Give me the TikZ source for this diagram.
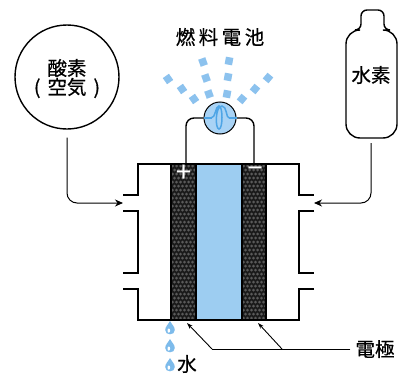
\documentclass[tikz,border=0pt]{standalone}
\usepackage{fontspec}
\setmainfont{Noto Sans CJK JP}[FakeBold=0.5]
\usetikzlibrary{arrows.meta}
\definecolor{memblue}{HTML}{9DCDF1}
\definecolor{raybl}{HTML}{8CC2EE}
\definecolor{dropbl}{HTML}{7DBBEB}
\definecolor{lampbl}{HTML}{A9D3F5}
\definecolor{filbl}{HTML}{4EA5E6}
\definecolor{elgray}{HTML}{5A5A5A}
\definecolor{eldark}{HTML}{1A1A1A}

\begin{document}
\begin{tikzpicture}[x=1pt,y=-1pt,
  line/.style={line width=1.4pt, black},
  lbl/.style={font=\fontsize{19.5}{21}\selectfont, inner sep=0pt},
  sign/.style={font=\fontsize{27}{27}\selectfont, text=white, inner sep=0pt},
  sq/.style={fill=raybl, minimum size=7.5pt, inner sep=0pt},
  arr/.style={line width=1pt, -{Stealth[length=8pt,width=7pt]}},
  ptr/.style={line width=0.9pt, -{Stealth[length=6pt,width=4pt]}},
  drop/.pic={
    \fill[dropbl] (0,-7) .. controls (1.5,-4) and (4.8,-1.3) .. (4.8,2)
      .. controls (4.8,4.9) and (2.5,6.3) .. (0,6.3)
      .. controls (-2.5,6.3) and (-4.8,4.9) .. (-4.8,2)
      .. controls (-4.8,-1.3) and (-1.5,-4) .. (0,-7) -- cycle;
    \fill[white] (-1.2,2.6) ellipse (1.3 and 2.1);
  }
]
\useasboundingbox (0,0) rectangle (399,380);

% electrodes with porous texture
\foreach \xa/\xb in {171/196, 242/266}{
  \begin{scope}
    \clip (\xa,164) rectangle (\xb,320);
    \fill[eldark] (\xa,164) rectangle (\xb,320);
    \foreach \i in {0,...,6}
      \foreach \j in {0,...,38}
        \fill[elgray] ({\xa+1.5+\i*4+mod(\j,2)*2},{166+\j*4}) circle (1.5);
  \end{scope}
  \draw[line width=1.2pt] (\xa,164) rectangle (\xb,320);
}
% electrolyte membrane
\fill[memblue] (196,164) rectangle (242,320);
\draw[line width=1.2pt] (196,164) rectangle (242,320);

\node[sign] (plus) at (183.5,173) {+};
\node[sign] (minus) at (255,172) {−};

% gas chambers
\draw[line] (171,164) -- (138,164) -- (138,195) -- (123,195);
\draw[line] (123,211) -- (138,211) -- (138,273) -- (123,273);
\draw[line] (123,289) -- (138,289) -- (138,320) -- (171,320);
\draw[line] (266,164) -- (299,164) -- (299,195) -- (314,195);
\draw[line] (314,211) -- (299,211) -- (299,273) -- (314,273);
\draw[line] (314,289) -- (299,289) -- (299,320) -- (266,320);

% lamp and wires
\node[circle, draw, line width=1pt, fill=lampbl, minimum size=32pt, inner sep=0pt] (lamp) at (220,118) {};
\coordinate (wl) at (186,164);
\coordinate (wr) at (254,164);
\draw[line, rounded corners=8] (wl) |- (lamp.west);
\draw[line, rounded corners=8] (wr) |- (lamp.east);
\draw[filbl, line width=2.8pt] (lamp.west) -- ++(8,0);
\draw[filbl, line width=2.8pt] (lamp.east) -- ++(-8,0);
\draw[filbl, line width=1.5pt] (211,118)
  .. controls (216,118) and (215,106) .. (219,106)
  .. controls (223,106) and (223,129) .. (219,129)
  .. controls (215,129) and (215,106) .. (222,106)
  .. controls (227,106) and (226,118) .. (229,118);

% light rays
\foreach \x/\y/\a [count=\k] in {
  168/79/35, 182/89/35, 194/99/35,
  203/62/20, 206/78/20, 209/94/20,
  229/61/-10, 228/77/-10, 227/94/-10,
  268/78/-40, 255/89/-40, 242/99/-40}
  \node[sq, rotate=\a] (ray\k) at (\x,\y) {};

\node[lbl] (title) at (220,37) {燃\hspace{3.5pt}料\hspace{3.5pt}電\hspace{3.5pt}池};

% oxygen supply
\node[circle, draw, line width=1.4pt, minimum size=104pt, inner sep=0pt] (ox) at (67,77) {};
\node[lbl] (oxa) at (67,68) {酸素};
\node[lbl] (oxb) at (67,88) {(\hspace{7pt}空気\hspace{7pt})};
\coordinate (inL) at (123,203);
\draw[arr, rounded corners=10] ([yshift=-8pt]ox.south) |- (inL);

% hydrogen cylinder
\draw[line] (372,10) [rounded corners=6] -- (384,10) -- (384,30)
  [rounded corners=14] -- (397,30) -- (397,138) -- (346,138) -- (346,30)
  [rounded corners=6] -- (361,30) -- (361,10) -- cycle;
\node[lbl] (h2) at (371,75) {水素};
\coordinate (h2b) at (371,143);
\coordinate (inR) at (314,203);
\draw[arr, rounded corners=10] (h2b) |- (inR);

% product water
\pic at (170,328) {drop};
\pic at (170,346) {drop};
\pic at (170,365) {drop};
\node[lbl] (water) at (187,364) {水};

% electrode label
\node[lbl] (el) at (375,349) {電極};
\coordinate (b1) at (212,349);
\coordinate (b2) at (282,349);
\coordinate (t1) at (187,323);
\coordinate (t2) at (258,323);
\draw[line width=0.9pt] ([xshift=-5pt]el.west) -- (b1);
\draw[ptr] (b1) -- (t1);
\draw[ptr] (b2) -- (t2);
\end{tikzpicture}
\end{document}
